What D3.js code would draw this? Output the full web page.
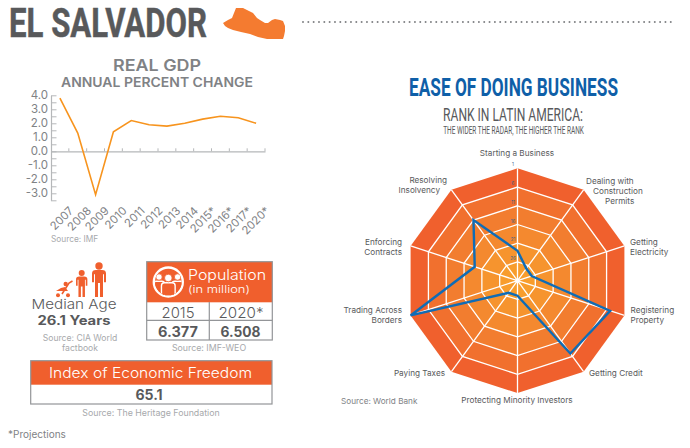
<!DOCTYPE html>
<head>
  <meta charset="utf-8" />
  <script src="https://cdn.jsdelivr.net/npm/d3@7"></script>
  <style>
    body { margin: 0; background: #fff; }
    svg { display: block; }
    text { font-family: "Inter", "Noto Sans", sans-serif; }
    .narrow { font-family: "Liberation Sans Narrow", "Roboto", sans-serif; }
  </style>
</head>

<body>
  <svg width="690" height="448"></svg>
  <script>
    // real gdp, annual percent change
    const gdpYears = ["2007", "2008", "2009", "2010", "2011", "2012", "2013", "2014", "2015*", "2016*", "2017*", "2020*"];
    const gdpValues = [3.8, 1.3, -3.1, 1.4, 2.2, 1.9, 1.8, 2.0, 2.3, 2.5, 2.4, 2.0];
    const gdpTicks = [4, 3, 2, 1, 0, -1, -2, -3];

    // ease of doing business, rank in latin america
    const radarLabels = [
      ["Starting a Business"],
      ["Dealing with", "Construction", "Permits"],
      ["Getting", "Electricity"],
      ["Registering", "Property"],
      ["Getting Credit"],
      ["Protecting Minority Investors"],
      ["Paying Taxes"],
      ["Trading Across", "Borders"],
      ["Enforcing", "Contracts"],
      ["Resolving", "Insolvency"]
    ];
    const radarRanks = [23, 27, 27, 5, 7, 27, 27, 1, 19, 11];
    const rankRings = [1, 6, 11, 16, 21, 26];
    const ringColors = ["#f0602d", "#f1702e", "#f27d2f", "#f4892f", "#f6942e", "#f89d2c"];

    const popYears = ["2015", "2020*"];
    const popValues = ["6.377", "6.508"];

    const svg = d3.select("svg");
    const orange = "#f05f2d";
    const grey = "#58595b";
    const mid = "#808285";
    const soft = "#a7a9ac";
    const rule = "#939598";

    function label(x, y, str, size, fill, anchor, weight) {
      return svg.append("text").attr("x", x).attr("y", y).text(str)
        .attr("font-size", size).attr("fill", fill)
        .attr("text-anchor", anchor || "start").attr("font-weight", weight || 400);
    }
    function fit(sel, width) {
      return sel.attr("textLength", width).attr("lengthAdjust", "spacingAndGlyphs");
    }
    // condensed headline: squeeze the text sideways to the measured width
    function narrow(x, y, str, size, fill, width, weight) {
      const t = label(0, 0, str, size, fill, "middle", weight).attr("class", "narrow");
      const k = width / t.node().getComputedTextLength();
      return t.attr("transform", `translate(${x},${y}) scale(${k},1)`);
    }

    // header
    narrow(108, 37, "EL SALVADOR", 41, grey, 198, 700).attr("stroke", grey).attr("stroke-width", 0.5);
    svg.append("path")
      .attr("d", "M223,23 L228,20 L232,18 L234,13 L236,8 L243,8 L249,11 L253,13 L257,18 L260,20 L265,23 L268,23 L272,20 L275,19 L280,20 L283,21 L285,26 L285,31 L284,36 L283,39 L275,39 L267,39 L258,37 L250,34 L241,32 L233,30 L228,28 L225,26 Z")
      .attr("fill", "#f47b30");
    svg.append("line").attr("x1", 303).attr("x2", 675).attr("y1", 22).attr("y2", 22)
      .attr("stroke", mid).attr("stroke-width", 2).attr("stroke-linecap", "round").attr("stroke-dasharray", "0 5.33");

    // line chart
    fit(label(157, 71, "REAL GDP", 16, mid, "middle", 600), 88);
    fit(label(157, 87, "ANNUAL PERCENT CHANGE", 13, mid, "middle", 600), 192);

    const x = d3.scaleBand().domain(gdpYears).range([51, 265]);
    const y = d3.scaleLinear().domain([-3.5, 4]).range([200.3, 95.3]);

    const yAxis = d3.axisLeft(y).tickValues(d3.range(-3.5, 4.5, 0.5))
      .tickSizeInner(-5.5).tickSizeOuter(0).tickFormat(d => gdpTicks.includes(d) ? d.toFixed(1) : "");
    const yg = svg.append("g").attr("transform", "translate(51,0)").call(yAxis);
    yg.select(".domain").attr("stroke", "#b5b7b9").attr("stroke-width", 1.2);
    yg.selectAll("line").attr("stroke", "#b5b7b9");
    yg.selectAll("text").attr("font-size", 11.5).attr("fill", mid).attr("x", -3);

    const xAxis = d3.axisBottom(x).tickSize(0);
    const xg = svg.append("g").attr("transform", `translate(0,${y(0)})`).call(xAxis);
    xg.select(".domain").attr("stroke", "#b5b7b9").attr("stroke-width", 1.2);
    xg.selectAll("text").attr("font-size", 11.3).attr("fill", mid)
      .attr("text-anchor", "end").attr("dy", 0).attr("y", 0)
      .attr("transform", `translate(12,${y(-3.5) - y(0) + 9}) rotate(-45)`)
      .attr("dominant-baseline", "middle");
    svg.append("g").selectAll("line").data(gdpYears).join("line")
      .attr("x1", d => x(d) + x.bandwidth()).attr("x2", d => x(d) + x.bandwidth())
      .attr("y1", y(0) - 3).attr("y2", y(0)).attr("stroke", "#b5b7b9");

    const gdpLine = d3.line().x((d, i) => x(gdpYears[i]) + x.bandwidth() / 2).y(d => y(d));
    svg.append("path").datum(gdpValues).attr("d", gdpLine)
      .attr("fill", "none").attr("stroke", "#f7941e").attr("stroke-width", 1.6);
    label(51, 242, "Source: IMF", 8.3, soft);

    // median age
    const people = svg.append("g").attr("fill", orange);
    function person(cx, headY, r, top, bottom, s) {
      people.append("circle").attr("cx", cx).attr("cy", headY).attr("r", r);
      people.append("path").attr("transform", `translate(${cx},${top}) scale(${s},${(bottom - top) / 31})`)
        .attr("d", "M-7,14 V4 Q-7,0 -3,0 H3 Q7,0 7,4 V14 H5 V5 H4 V31 H1 V15 H-1 V31 H-4 V5 H-5 V14 Z");
    }
    person(99, 266, 3.7, 270, 297, 1);
    person(81.7, 273, 3, 276.5, 297, 0.81);
    people.append("path").attr("fill", "none").attr("stroke", orange).attr("stroke-width", 1.6)
      .attr("d", "M72.5,281 L69,283 L62,294");
    people.append("path").attr("d", "M56,291 L68,291 L65,287 L61,288 Z");
    people.append("circle").attr("cx", 65.7).attr("cy", 284).attr("r", 2.2);
    people.append("circle").attr("cx", 58).attr("cy", 295.3).attr("r", 2);
    people.append("circle").attr("cx", 68).attr("cy", 295.3).attr("r", 2);

    fit(label(74, 309, "Median Age", 13.5, grey, "middle", 300), 85);
    fit(label(74, 324.5, "26.1 Years", 12.5, grey, "middle", 700), 73);
    label(80, 341, "Source: CIA World", 8.6, soft, "middle");
    label(80, 350.5, "factbook", 8.6, soft, "middle");

    // population table
    svg.append("rect").attr("x", 146.7).attr("y", 261.7).attr("width", 125.6).attr("height", 40.6).attr("fill", orange);
    svg.append("rect").attr("x", 146.7).attr("y", 261.7).attr("width", 125.6).attr("height", 78.3)
      .attr("fill", "none").attr("stroke", rule).attr("stroke-width", 1.2);
    svg.append("line").attr("x1", 146.7).attr("x2", 272.3).attr("y1", 320.3).attr("y2", 320.3).attr("stroke", rule).attr("stroke-width", 1.2);
    svg.append("line").attr("x1", 209.3).attr("x2", 209.3).attr("y1", 302).attr("y2", 340).attr("stroke", rule).attr("stroke-width", 1.2);
    svg.append("circle").attr("cx", 168.3).attr("cy", 282).attr("r", 15.7).attr("fill", "#fff");
    svg.append("circle").attr("cx", 168.3).attr("cy", 282).attr("r", 13.3).attr("fill", orange);
    svg.append("clipPath").attr("id", "crowd").append("circle").attr("cx", 168.3).attr("cy", 282).attr("r", 13.3);
    const crowd = svg.append("g").attr("clip-path", "url(#crowd)");
    [[159, 277, 3.2], [177.6, 277, 3.2], [168.3, 278, 3.8]].forEach(d => {
      crowd.append("path").attr("d", `M${d[0] - d[2] * 1.8},${d[1] + 20} V${d[1] + d[2] + 4} q0,-3 3,-3 h${d[2] * 3.6 - 6} q3,0 3,3 V${d[1] + 20} Z`)
        .attr("fill", orange).attr("stroke", "#fff").attr("stroke-width", 1.4);
      crowd.append("circle").attr("cx", d[0]).attr("cy", d[1]).attr("r", d[2])
        .attr("fill", "#fff").attr("stroke", orange).attr("stroke-width", 0.8);
    });
    fit(label(188, 280, "Population", 14.5, "#fff", "start", 300), 78);
    fit(label(188, 293, "(in million)", 10.5, "#fff", "start", 300), 62);
    popYears.forEach((d, i) => {
      fit(label(178 + i * 63, 318, d, 14.5, grey, "middle", 300), i ? 45 : 33);
      fit(label(178 + i * 62.5, 336.5, popValues[i], 14, grey, "middle", 700), 40);
    });
    label(209, 351, "Source: IMF-WEO", 8.8, soft, "middle");

    // index of economic freedom
    svg.append("rect").attr("x", 30.7).attr("y", 360.7).attr("width", 241.3).attr("height", 24).attr("fill", orange);
    svg.append("rect").attr("x", 30.7).attr("y", 360.7).attr("width", 241.3).attr("height", 43.3)
      .attr("fill", "none").attr("stroke", rule).attr("stroke-width", 1.2);
    fit(label(150.5, 378, "Index of Economic Freedom", 14.5, "#fff", "middle", 300), 203);
    label(149, 400, "65.1", 14, grey, "middle", 700);
    label(151, 415.7, "Source: The Heritage Foundation", 8.8, soft, "middle");
    label(8, 438, "*Projections", 10, mid);

    // radar
    narrow(513.5, 96, "EASE OF DOING BUSINESS", 26.7, "#0f5fa8", 209, 700);
    narrow(513, 120.5, "RANK IN LATIN AMERICA:", 19, grey, 140, 400);
    narrow(513.5, 134, "THE WIDER THE RADAR, THE HIGHER THE RANK", 10, grey, 141, 400);

    const cx = 517.5, cy = 280.7;
    const r = d3.scaleLinear().domain([31, 1]).range([0, 112.4]);
    const angle = d3.scalePoint().domain(d3.range(10)).range([0, 2 * Math.PI * 0.9]);
    const radar = svg.append("g").attr("transform", `translate(${cx},${cy})`);
    const radial = d3.lineRadial().angle((d, i) => angle(i)).radius(d => r(d)).curve(d3.curveLinearClosed);
    const ringPath = rank => radial(d3.range(10).map(() => rank));

    radar.selectAll(".band").data(rankRings).join("path").attr("class", "band")
      .attr("d", ringPath).attr("fill", (d, i) => ringColors[i]);
    radar.selectAll(".ring").data(rankRings.slice(1)).join("path").attr("class", "ring")
      .attr("d", ringPath).attr("fill", "none").attr("stroke", "#fff").attr("stroke-width", 1.3);
    radar.selectAll(".spoke").data(d3.range(10)).join("line").attr("class", "spoke")
      .attr("x2", d => r(1) * Math.sin(angle(d))).attr("y2", d => -r(1) * Math.cos(angle(d)))
      .attr("stroke", "#fff").attr("stroke-width", 1.3);
    radar.append("circle").attr("r", 2.3).attr("fill", "#fff");
    radar.selectAll(".tick").data(rankRings).join("text").attr("class", "tick")
      .attr("x", -4.5).attr("y", d => -r(d) - 2).attr("text-anchor", "middle")
      .attr("font-size", 4.5).attr("fill", "#3b5f8a").text(d => d);
    radar.append("path").datum(radarRanks).attr("d", radial)
      .attr("fill", "none").attr("stroke", "#0f6cb6").attr("stroke-width", 2.4)
      .attr("stroke-linejoin", "miter");

    // x per line, first baseline, anchor of each radar label
    const labelSpots = [
      [[517], 156, "middle"], [[586, 593, 605], 184, "start"], [[630, 630], 245, "start"],
      [[630.5, 630.5], 312.7, "start"], [[589], 376, "start"], [[517], 402.7, "middle"],
      [[445], 376, "end"], [[402, 402], 313, "end"], [[402, 402], 244.7, "end"], [[447, 440], 183, "end"]
    ];
    radarLabels.forEach((lines, i) => {
      const s = labelSpots[i];
      lines.forEach((t, j) => label(s[0][j], s[1] + j * 10, t, 8.2, grey, s[2]));
    });
    label(341, 404, "Source: World Bank", 8.2, mid);
  </script>
</body>
